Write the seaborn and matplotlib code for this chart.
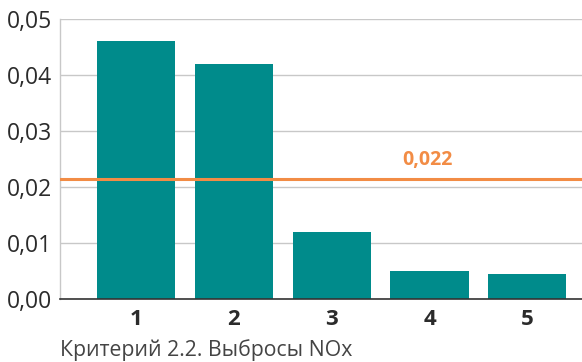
import matplotlib
matplotlib.use("Agg")
import matplotlib.pyplot as plt
import seaborn as sns
import pandas as pd

categories = ["1", "2", "3", "4", "5"]
values = [0.046, 0.042, 0.012, 0.005, 0.0045]
threshold = 0.0215
threshold_label = "0,022"
yticks = [0.00, 0.01, 0.02, 0.03, 0.04, 0.05]
title = "Критерий 2.2. Выбросы NOx"

sns.set_theme(style="white")
plt.rcParams["font.family"] = ["Open Sans", "DejaVu Sans"]

df = pd.DataFrame({"cat": categories, "val": values})

fig = plt.figure(figsize=(5.82, 3.62), dpi=100)
ax = fig.add_axes([60 / 582, 1 - 299 / 362, 522 / 582, 280 / 362])

sns.barplot(data=df, x="cat", y="val", color="#008B8B", saturation=1, width=0.8,
            linewidth=0, ax=ax, zorder=3)
ax.set_xlim(-0.78, 4.56)
ax.set_ylim(0, 0.05)
ax.set_yticks(yticks)
ax.set_yticklabels([f"{t:.2f}".replace(".", ",") for t in yticks], fontsize=16.5, color="#2b2b2b")
ax.yaxis.grid(True, color="#c8c8c8", linewidth=1, zorder=0)
ax.tick_params(axis="y", length=0, pad=6)
ax.tick_params(axis="x", length=0, pad=7)
for lbl in ax.get_xticklabels():
    lbl.set_fontweight("bold")
    lbl.set_fontsize(16)
    lbl.set_color("#2b2b2b")
ax.set_xlabel("")
ax.set_ylabel("")
for s in ["top", "right"]:
    ax.spines[s].set_visible(False)
ax.spines["left"].set_color("#c8c8c8")
ax.spines["left"].set_linewidth(1)
ax.spines["bottom"].set_color("#333333")
ax.spines["bottom"].set_linewidth(1.2)
ax.spines["bottom"].set_zorder(5)

ax.axhline(threshold, color="#F28C45", linewidth=2.2, zorder=4)
ax.text(2.98, threshold + 0.0015, threshold_label, color="#F28C45", fontsize=14,
        fontweight="bold", ha="center", va="bottom")

fig.text(60 / 582, 1 - 350 / 362, title, fontsize=15.3, color="#444444", ha="left", va="center")

fig.savefig("out.png", dpi=100)
